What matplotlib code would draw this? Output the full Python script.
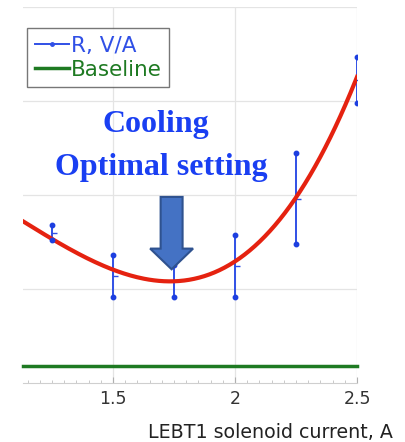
import numpy as np
import matplotlib.pyplot as plt
from matplotlib.patches import FancyArrow
from matplotlib.ticker import MultipleLocator, NullFormatter

# solenoid current, A
current = [1.25, 1.5, 1.75, 2.0, 2.25, 2.5]
# measured R (arbitrary units) with spread
r_mean = [1.60, 1.14, 1.09, 1.25, 1.96, 3.22]
r_low = [1.52, 0.92, 0.92, 0.92, 1.48, 2.98]
r_high = [1.68, 1.36, 1.26, 1.57, 2.45, 3.47]
# fitted R at the same currents
r_fit = [1.527, 1.22, 1.08, 1.27, 2.0, 3.25]
baseline = 0.18
x_ticks = [1.5, 2.0, 2.5]
x_ticklabels = ['1.5', '2', '2.5']

blue = '#3050e6'
fig = plt.figure(figsize=(4.06, 4.42), dpi=100)
ax = fig.add_axes([0.0567, 0.1335, 0.8227, 0.8505])

ax.set_xlim(1.131, 2.5)
ax.set_ylim(0, 4)

# grid and frame
for s in ['top', 'left', 'right']:
    ax.spines[s].set_visible(False)
ax.spines['bottom'].set_color('#cfcfcf')
ax.set_xticks(x_ticks)
ax.set_xticklabels(x_ticklabels)
ax.xaxis.set_minor_locator(MultipleLocator(0.05))
ax.set_yticks([1, 2, 3, 4])
ax.yaxis.set_major_formatter(NullFormatter())
ax.tick_params(axis='y', length=0)
ax.tick_params(axis='x', which='major', direction='in', length=4, color='#b0b0b0',
               labelsize=12.5, labelcolor='#333333', pad=5)
ax.tick_params(axis='x', which='minor', direction='in', length=2.5, color='#c0c0c0')
ax.grid(True, color='#e4e4e4', lw=0.9)
ax.set_axisbelow(True)

# smooth cubic through the fit values
coef = np.polyfit(current, r_fit, 3)
xs = np.linspace(1.131, 2.5, 200)
ax.plot(xs, np.polyval(coef, xs), color='#e52210', lw=3, zorder=3)

# error bars with dotted ends
for x, lo, hi, m in zip(current, r_low, r_high, r_mean):
    ax.plot([x, x], [lo, hi], color=blue, lw=1.4, zorder=2)
    ax.plot([x, x], [lo, hi], 'o', color='#1d3fe0', ms=3.2, zorder=4)
    ax.plot([x + 0.008], [m], marker='_', color=blue, ms=4, mew=1, zorder=2)

ax.plot([], [], color=blue, lw=1.4, marker='o', ms=2.5, markevery=[1],
        label='R, V/A')
ax.plot(xs, np.full_like(xs, baseline), color='#1e7a22', lw=2.5, label='Baseline',
        clip_on=False)

leg = ax.legend(loc='upper left', bbox_to_anchor=(0.012, 0.944), fontsize=15.5,
                frameon=True, fancybox=False, handlelength=1.6, handletextpad=0.08,
                borderpad=0.35, labelspacing=0.2, borderaxespad=0)
leg.get_frame().set_edgecolor('#555555')
leg.get_frame().set_linewidth(1)
for t, c in zip(leg.get_texts(), [blue, '#1e7a22']):
    t.set_color(c)

# annotation
ax.text(1.674, 2.75, 'Cooling', color='#1a3ff2', fontsize=23, fontweight='bold',
        family='Liberation Serif', ha='center', va='center')
ax.text(1.699, 2.29, 'Optimal setting', color='#1a3ff2', fontsize=23,
        fontweight='bold', family='Liberation Serif', ha='center', va='center')
ax.add_patch(FancyArrow(1.74, 1.98, 0, -0.77, width=0.09, head_width=0.176,
                        head_length=0.22, length_includes_head=True,
                        facecolor='#4472c4', edgecolor='#2f528f', lw=1.5, zorder=5))

fig.text(0.968, 0.0226, 'LEBT1 solenoid current, A', ha='right', va='center',
         fontsize=13.7, color='#222222')

fig.savefig('out.png', dpi=100)
